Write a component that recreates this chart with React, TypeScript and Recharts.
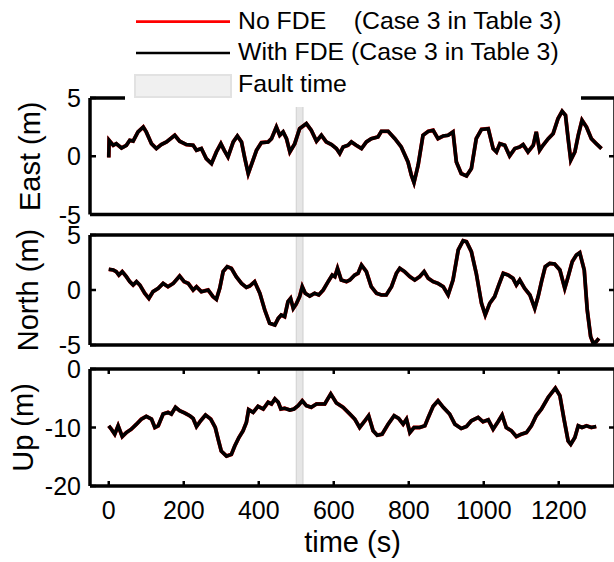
import React from "react";
import { LineChart, Line, XAxis, YAxis, ReferenceArea } from "recharts";

// [time (s), metres]
const EAST: [number, number][] = [
  [0, -0.1], [1, 1.37], [12, 0.94], [20, 1.08], [34, 0.71], [47, 0.94], [56, 1.37], [65, 1.3],
  [78, 2.09], [92, 2.51], [100, 2.09], [114, 1.08], [127, 0.66], [140, 1.0], [154, 1.23], [176, 1.8],
  [189, 1.29], [207, 1.0], [225, 0.94], [234, 0.51], [247, 0.66], [260, -0.2], [274, -0.63], [287, 0.37],
  [299, 1.08], [308, 0.5], [318, -0.06], [332, 1.23], [343, 1.74], [354, 1.23], [363, -0.2], [372, -1.49],
  [380, -0.77], [394, 0.51], [407, 1.17], [425, 1.23], [434, 1.51], [447, 2.51], [456, 1.8], [465, 2.09],
  [474, 1.51], [483, 0.37], [496, 1.08], [509, 2.37], [527, 2.8], [540, 2.23], [554, 1.29], [567, 1.8],
  [580, 1.23], [594, 1.0], [607, 0.66], [616, 0.23], [625, 0.8], [638, 0.94], [647, 1.23], [660, 0.94],
  [674, 0.66], [687, 1.23], [700, 1.51], [718, 1.66], [727, 2.14], [745, 2.14], [763, 1.51], [780, 0.8],
  [798, -0.49], [807, -1.63], [814, -2.26], [825, -0.77], [838, 1.8], [852, 2.14], [865, 2.23], [878, 1.51],
  [892, 1.74], [905, 1.8], [918, 2.09], [927, -0.49], [940, -1.49], [954, -1.69], [967, -1.06], [980, 1.51],
  [994, 2.31], [1012, 2.37], [1025, 0.66], [1034, 0.37], [1043, 1.08], [1056, 0.94], [1069, 0.03], [1083, 0.66],
  [1096, 0.8], [1105, 1.0], [1118, 0.37], [1132, 0.94], [1140, 2.09], [1149, 0.51], [1158, 0.94], [1172, 1.51],
  [1185, 1.94], [1198, 3.23], [1209, 3.86], [1218, 3.51], [1225, 1.51], [1232, -0.34], [1243, 0.37], [1252, 1.8],
  [1262, 3.09], [1274, 2.51], [1287, 1.51], [1300, 1.08], [1314, 0.66],
];

const NORTH: [number, number][] = [
  [0, 1.88], [12, 1.82], [20, 1.67], [27, 1.36], [36, 1.67], [47, 1.21], [56, 0.76], [65, 0.45],
  [74, 0.76], [83, 0.45], [96, -0.3], [107, -0.76], [118, -0.15], [132, 0.15], [145, 0.6], [158, 0.3],
  [172, 0.6], [189, 1.27], [201, 0.76], [212, 0.6], [225, 0.0], [234, 0.3], [247, -0.15], [265, 0.0],
  [278, -0.6], [287, -0.85], [296, 0.15], [305, 1.67], [316, 2.12], [327, 1.97], [340, 1.21], [354, 0.6],
  [367, 0.24], [376, 0.36], [389, 0.76], [403, -0.3], [416, -1.82], [429, -3.03], [443, -3.18], [452, -2.58],
  [460, -2.27], [469, -2.42], [478, -1.06], [485, -0.76], [492, -1.67], [500, -1.27], [509, -0.6], [516, 0.3],
  [524, -0.3], [536, -0.55], [549, -0.3], [560, -0.45], [572, 0.0], [585, 0.76], [596, 1.36], [603, 1.21],
  [610, 1.97], [620, 0.91], [634, 0.76], [643, 0.91], [656, 1.36], [665, 1.52], [674, 2.27], [687, 1.67],
  [700, 0.3], [714, -0.3], [727, -0.45], [740, -0.45], [754, 0.3], [767, 1.52], [776, 1.97], [789, 1.67],
  [803, 1.21], [816, 0.91], [829, 1.21], [841, 1.67], [852, 1.06], [865, 0.76], [878, 0.6], [892, 0.3],
  [905, -0.45], [918, 0.91], [932, 3.64], [945, 4.48], [954, 4.39], [967, 3.48], [980, 1.52], [994, -1.21],
  [1004, -2.27], [1016, -1.21], [1029, -0.6], [1040, 0.45], [1052, 1.52], [1065, 1.36], [1078, 1.06], [1087, 0.45],
  [1096, 0.91], [1109, 0.15], [1123, -0.45], [1136, -1.67], [1145, -0.6], [1154, 0.76], [1164, 2.12], [1176, 2.42],
  [1189, 2.36], [1203, 1.82], [1216, 0.15], [1225, 1.21], [1236, 2.58], [1247, 3.18], [1256, 3.39], [1268, 1.82],
  [1276, -1.82], [1285, -4.24], [1292, -4.85], [1300, -4.7], [1307, -4.39],
];

const UP: [number, number][] = [
  [0, -9.71], [7, -10.29], [16, -11.15], [25, -9.71], [36, -11.55], [47, -10.86], [60, -10.29], [74, -9.43],
  [87, -8.56], [100, -8.1], [114, -8.56], [123, -10.0], [132, -9.71], [145, -7.7], [158, -7.41], [167, -7.7],
  [178, -6.55], [189, -7.13], [203, -7.53], [216, -7.99], [225, -8.45], [234, -9.83], [245, -8.85], [258, -7.87],
  [272, -8.56], [284, -10.0], [293, -12.3], [300, -14.02], [314, -14.89], [327, -14.6], [336, -13.16], [347, -11.72],
  [358, -10.57], [367, -9.14], [373, -6.95], [385, -7.41], [398, -6.38], [412, -6.84], [425, -5.69], [434, -5.98],
  [443, -5.11], [452, -5.69], [459, -6.84], [469, -6.72], [483, -7.01], [494, -6.84], [505, -6.26], [516, -5.43],
  [527, -6.26], [540, -6.55], [554, -5.98], [576, -5.98], [592, -4.25], [607, -5.8], [625, -6.55], [643, -7.7],
  [656, -8.56], [669, -10.0], [683, -8.85], [693, -7.99], [705, -10.57], [716, -11.32], [729, -11.15], [745, -9.43],
  [761, -7.99], [773, -8.45], [785, -9.43], [794, -8.56], [803, -10.86], [814, -10.0], [829, -10.0], [843, -9.71],
  [852, -8.28], [865, -6.38], [878, -5.43], [892, -6.55], [909, -7.7], [923, -9.43], [940, -10.17], [954, -9.83],
  [967, -8.85], [985, -8.28], [998, -9.02], [1012, -8.68], [1025, -10.29], [1038, -9.02], [1049, -7.87], [1060, -10.0],
  [1074, -10.57], [1087, -11.55], [1100, -11.15], [1114, -10.86], [1127, -9.71], [1140, -7.99], [1154, -6.84], [1172, -4.83],
  [1191, -3.28], [1203, -4.54], [1214, -8.56], [1225, -12.3], [1232, -12.87], [1243, -11.72], [1252, -9.71], [1262, -10.0],
  [1274, -9.71], [1287, -10.0], [1300, -9.83],
];

const X_TICKS = [0, 200, 400, 600, 800, 1000, 1200];
const X_DOMAIN = [-50, 1350];
const FAULT_START = 500;
const FAULT_END = 518;

const FONT = '"Liberation Sans", Arial, sans-serif';
const AXIS_LINE = { stroke: "#000", strokeWidth: 3.5 };
const TICK_W = 2.5;

// MATLAB style: tick marks point into the box
const leftTick = (p: any) => (
  <g>
    <line x1={p.x} x2={p.x + 6} y1={p.y} y2={p.y} stroke="#000" strokeWidth={TICK_W} />
    <text x={p.x - 9} y={p.y} textAnchor="end" dominantBaseline="central" fontSize={25} fontFamily={FONT} fill="#000">
      {p.payload.value}
    </text>
  </g>
);
const rightTick = (p: any) => (
  <line x1={p.x - 6} x2={p.x} y1={p.y} y2={p.y} stroke="#000" strokeWidth={TICK_W} />
);
const bottomTick = (p: any) => (
  <g>
    <line x1={p.x} x2={p.x} y1={p.y - 5} y2={p.y} stroke="#000" strokeWidth={TICK_W} />
    <text x={p.x} y={p.y + 32.5} textAnchor="middle" fontSize={25} fontFamily={FONT} fill="#000">
      {p.payload.value}
    </text>
  </g>
);
const topTick = (p: any) => (
  <line x1={p.x} x2={p.x} y1={p.y} y2={p.y + 5} stroke="#000" strokeWidth={TICK_W} />
);

interface PanelProps {
  rows: [number, number][];
  yDomain: number[];
  yTicks: number[];
  midTick: number;
  label: string;
  labelX: number;
  top: number;
  bottom: number;
  last?: boolean;
}

function Panel({ rows, yDomain, yTicks, midTick, label, labelX, top, bottom, last }: PanelProps) {
  const data = rows.map(([t, v]) => ({ t, v }));
  const padTop = 25;
  const padBottom = last ? 80 : 25;
  const h = bottom - top + padTop + padBottom;
  return (
    <div style={{ position: "absolute", left: 0, top: top - padTop }}>
      <LineChart width={625} height={h} data={data} margin={{ top: 0, right: 0, bottom: 0, left: 0 }}>
        <XAxis
          xAxisId="b"
          type="number"
          dataKey="t"
          domain={X_DOMAIN}
          allowDataOverflow
          height={padBottom}
          ticks={X_TICKS}
          tickSize={0}
          tickMargin={0}
          axisLine={AXIS_LINE}
          tickLine={false}
          tick={last ? bottomTick : false}
          label={
            last
              ? (p: any) => (
                  <text
                    x={p.viewBox.x + p.viewBox.width / 2}
                    y={p.viewBox.y + 66}
                    textAnchor="middle"
                    fontSize={29}
                    fontFamily={FONT}
                    fill="#000"
                  >
                    time (s)
                  </text>
                )
              : undefined
          }
        />
        <XAxis
          xAxisId="t"
          orientation="top"
          type="number"
          dataKey="t"
          domain={X_DOMAIN}
          allowDataOverflow
          height={padTop}
          ticks={X_TICKS}
          tickSize={0}
          tickMargin={0}
          axisLine={AXIS_LINE}
          tickLine={false}
          tick={last ? topTick : false}
        />
        <YAxis
          yAxisId="l"
          type="number"
          domain={yDomain}
          allowDataOverflow
          width={90}
          ticks={yTicks}
          tickSize={0}
          tickMargin={0}
          axisLine={AXIS_LINE}
          tickLine={false}
          tick={leftTick}
          label={(p: any) => {
            const cy = p.viewBox.y + p.viewBox.height / 2;
            return (
              <text
                x={labelX}
                y={cy}
                transform={`rotate(-90 ${labelX} ${cy})`}
                textAnchor="middle"
                dominantBaseline="central"
                fontSize={29}
                fontFamily={FONT}
                fill="#000"
              >
                {label}
              </text>
            );
          }}
        />
        <YAxis
          yAxisId="r"
          orientation="right"
          type="number"
          domain={yDomain}
          allowDataOverflow
          width={10}
          ticks={[midTick]}
          tickSize={0}
          tickMargin={0}
          axisLine={AXIS_LINE}
          tickLine={false}
          tick={rightTick}
        />
        <Line
          xAxisId="b"
          yAxisId="l"
          type="linear"
          dataKey="v"
          stroke="#ff0000"
          strokeWidth={3.8}
          dot={false}
          isAnimationActive={false}
        />
        <Line
          xAxisId="b"
          yAxisId="l"
          type="linear"
          dataKey="v"
          stroke="#000"
          strokeWidth={3.6}
          dot={false}
          isAnimationActive={false}
        />
        <ReferenceArea
          xAxisId="b"
          yAxisId="l"
          x1={FAULT_START}
          x2={FAULT_END}
          fill="#e2e2e2"
          fillOpacity={0.85}
          stroke="#cfcfcf"
          strokeWidth={1}
        />
      </LineChart>
    </div>
  );
}

function Legend() {
  const txt = { fontSize: 24.8, fontFamily: FONT, fill: "#000" };
  return (
    <svg width={456} height={107} style={{ position: "absolute", left: 125, top: 0 }}>
      <rect x={0} y={0} width={456} height={107} fill="#fff" />
      <line x1={11} x2={105} y1={21.7} y2={21.7} stroke="#ff0000" strokeWidth={2.7} />
      <text x={113} y={28.5} {...txt} style={{ whiteSpace: "pre" }}>
        {"No FDE    (Case 3 in Table 3)"}
      </text>
      <line x1={11} x2={105} y1={53} y2={53} stroke="#000" strokeWidth={2.7} />
      <text x={113} y={60} {...txt}>
        With FDE (Case 3 in Table 3)
      </text>
      <rect x={10} y={75} width={96} height={22} fill="#f0f0f0" stroke="#e2e2e2" strokeWidth={2} />
      <text x={113} y={91.5} {...txt}>
        Fault time
      </text>
    </svg>
  );
}

export default function App() {
  return (
    <div
      style={{
        position: "absolute",
        left: 0,
        top: 0,
        width: 614,
        height: 562,
        overflow: "hidden",
        background: "#fff",
      }}
    >
      <Panel rows={EAST} yDomain={[-5, 5]} yTicks={[-5, 0, 5]} midTick={0} label="East (m)" labelX={30} top={98} bottom={214.5} />
      <Panel rows={NORTH} yDomain={[-5, 5]} yTicks={[-5, 0, 5]} midTick={0} label="North (m)" labelX={28} top={235} bottom={345} />
      <Panel rows={UP} yDomain={[-20, 0]} yTicks={[-20, -10, 0]} midTick={-10} label="Up (m)" labelX={23} top={369} bottom={486} last />
      <Legend />
    </div>
  );
}
